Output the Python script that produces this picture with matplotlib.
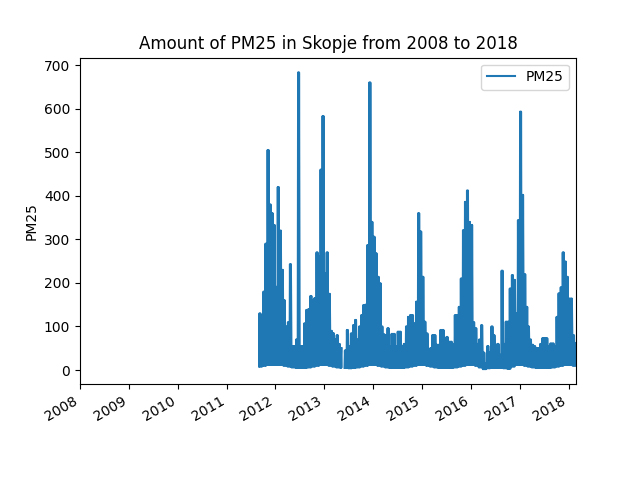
import numpy as np
import pandas as pd
import matplotlib
matplotlib.use("Agg")
import matplotlib.pyplot as plt
import matplotlib.dates as mdates

# half-month peaks (first half, second half of each month)
hi_2011 = [130, 125, 180, 290, 505, 380, 360, 333]  # Sep..Dec
hi_2012 = [191, 420, 320, 230, 160, 100, 110, 243, 55, 55, 70, 683,
           55, 55, 107, 138, 140, 170, 160, 165, 270, 260, 460, 583]
hi_2013 = [222, 270, 175, 90, 85, 70, 80, 60, 50, np.nan, 45, 92,
           55, 84, 103, 115, 70, 100, 126, 149, 150, 287, 660, 340]
hi_2014 = [306, 268, 214, 199, 100, 82, 80, 96, 55, 83, 83, 55,
           88, 88, 55, 60, 100, 122, 126, 126, 107, 157, 360, 318]
hi_2015 = [214, 111, 84, 45, 50, 80, 80, 58, 58, 92, 92, 73,
           76, 65, 65, 60, 126, 126, 145, 210, 321, 386, 412, 340]
hi_2016 = [333, 110, 96, 60, 70, 103, 40, 15, 55, 40, 100, 80,
           58, 60, 35, 228, 60, 111, 111, 187, 218, 207, 130, 344]
hi_2017 = [593, 402, 220, 145, 100, 70, 58, 55, 50, 50, 60, 73,
           73, 73, 55, 61, 61, 55, 122, 176, 190, 270, 249, 214]
hi_2018 = [164, 164, 80, 62]  # Jan..Feb

# monthly floor of the series
lo_2011 = [8, 10, 12, 12]  # Sep..Dec
lo_2012 = [12, 12, 10, 8, 6, 5, 5, 5, 6, 8, 10, 12]
lo_2013 = [12, 10, 8, 6, 5, 5, 4, 5, 6, 8, 10, 12]
lo_2014 = [12, 10, 8, 6, 5, 5, 5, 5, 6, 8, 10, 12]
lo_2015 = [12, 10, 8, 6, 5, 5, 5, 5, 6, 8, 10, 12]
lo_2016 = [12, 10, 6, 2, 4, 5, 5, 5, 4, 3, 8, 12]
lo_2017 = [12, 10, 8, 6, 5, 5, 5, 5, 6, 8, 10, 12]
lo_2018 = [12, 10]

years = {
    2011: (hi_2011, lo_2011, 9),
    2012: (hi_2012, lo_2012, 1),
    2013: (hi_2013, lo_2013, 1),
    2014: (hi_2014, lo_2014, 1),
    2015: (hi_2015, lo_2015, 1),
    2016: (hi_2016, lo_2016, 1),
    2017: (hi_2017, lo_2017, 1),
    2018: (hi_2018, lo_2018, 1),
}

# each half month swings floor -> peak twice, like the hourly readings do
dates = []
values = []
for year, (hi, lo, m0) in years.items():
    for k, h in enumerate(hi):
        month = m0 + k // 2
        day = 1 if k % 2 == 0 else 16
        low = lo[month - m0]
        if np.isnan(h):
            low = np.nan
        start = pd.Timestamp(year, month, day)
        for off, v in [(0, low), (3, h), (7, low), (10, h)]:
            dates.append(start + pd.Timedelta(days=off))
            values.append(v)

fig, ax = plt.subplots(figsize=(6.4, 4.8), dpi=100)
ax.plot(dates, values, label="PM25")
ax.set_xlim(pd.Timestamp(2008, 1, 1), dates[-1])
ax.xaxis.set_major_locator(mdates.YearLocator(1))
ax.xaxis.set_major_formatter(mdates.DateFormatter("%Y"))
ax.set_title("Amount of PM25 in Skopje from 2008 to 2018")
ax.set_ylabel("PM25")
ax.legend(loc="upper right")
fig.autofmt_xdate()

fig.savefig("out.png")
